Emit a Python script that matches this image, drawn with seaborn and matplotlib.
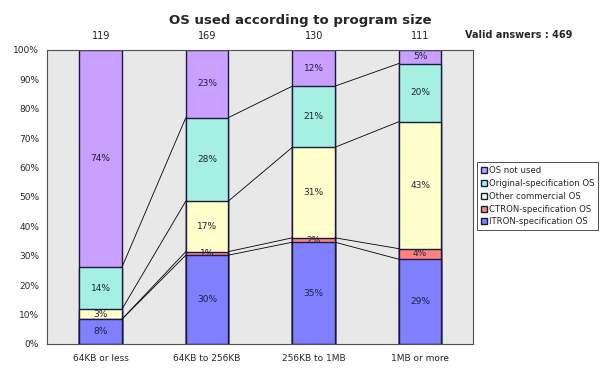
import numpy as np
import pandas as pd
import matplotlib
matplotlib.use('Agg')
import matplotlib.pyplot as plt
import seaborn as sns

sizes = ['64KB or less', '64KB to 256KB', '256KB to 1MB', '1MB or more']
answers = [119, 169, 130, 111]
# percentages per bar, bottom to top
itron = [8.4, 30.2, 34.6, 28.8]
ctron = [0.0, 1.2, 1.5, 3.6]
other = [3.4, 17.2, 30.8, 43.2]
original = [14.3, 28.4, 20.8, 19.8]
not_used = [73.9, 23.1, 12.3, 4.5]

series = ['ITRON-specification OS', 'CTRON-specification OS', 'Other commercial OS',
          'Original-specification OS', 'OS not used']
colors = ['#8080ff', '#ff8080', '#ffffcc', '#a6f0e3', '#c9a0ff']

sns.set_style('white')
plt.rcParams['font.family'] = ['DejaVu Sans']

fig = plt.figure(figsize=(6, 3.73), dpi=100)
ax = fig.add_axes([0.079, 0.078, 0.71, 0.788])
ax.set_facecolor('#e8e8e8')

layers = np.array([itron, ctron, other, original, not_used])
cum = layers.cumsum(axis=0)

df = pd.DataFrame({'size': sizes})
# draw cumulative heights from top layer down so each covers the one above
for k in range(len(series) - 1, -1, -1):
    df['h'] = cum[k]
    sns.barplot(data=df, x='size', y='h', order=sizes, color=colors[k], width=0.4,
                edgecolor='#1a1a40', linewidth=1.0, saturation=1, ax=ax,
                label=series[k])
handles, labels = ax.get_legend_handles_labels()
if ax.get_legend() is not None:
    ax.get_legend().remove()

# series lines between neighbouring bars
w = 0.2
for k in range(len(series) - 1):
    for i in range(len(sizes) - 1):
        ax.plot([i + w, i + 1 - w], [cum[k][i], cum[k][i + 1]], color='black', lw=0.6, zorder=1)

# percent labels
for k in range(len(series)):
    for i in range(len(sizes)):
        v = layers[k][i]
        if v <= 0:
            continue
        ax.text(i, cum[k][i] - v / 2, '%d%%' % int(v + 0.5), ha='center', va='center',
                fontsize=6.5, color='#202040')

for i, n in enumerate(answers):
    ax.text(i, 103, str(n), ha='center', va='bottom', fontsize=7, color='#202020')

ax.set_ylim(0, 100)
ax.set_xlim(-0.5, 3.5)
ax.set_yticks(np.arange(0, 101, 10))
ax.set_yticklabels(['%d%%' % t for t in range(0, 101, 10)], fontsize=6.5)
ax.tick_params(axis='x', labelsize=6.5, length=3, pad=4)
ax.tick_params(axis='y', length=3, pad=3)
ax.set_xlabel('')
ax.set_ylabel('')
for s in ax.spines.values():
    s.set_color('#505050')
    s.set_linewidth(0.8)

leg = fig.legend(handles, labels, loc='upper left', bbox_to_anchor=(0.795, 0.565),
                 fontsize=6.1, frameon=True, fancybox=False, edgecolor='black',
                 handlelength=0.7, handleheight=0.7, handletextpad=0.3,
                 borderpad=0.45, labelspacing=0.45, borderaxespad=0)
leg.get_frame().set_linewidth(0.6)

fig.text(0.5, 0.945, 'OS used according to program size', ha='center', va='center',
         fontsize=9.5, fontweight='bold')
fig.text(0.775, 0.905, 'Valid answers : 469', ha='left', va='center',
         fontsize=7, fontweight='bold')

fig.savefig('out.png', dpi=100)
